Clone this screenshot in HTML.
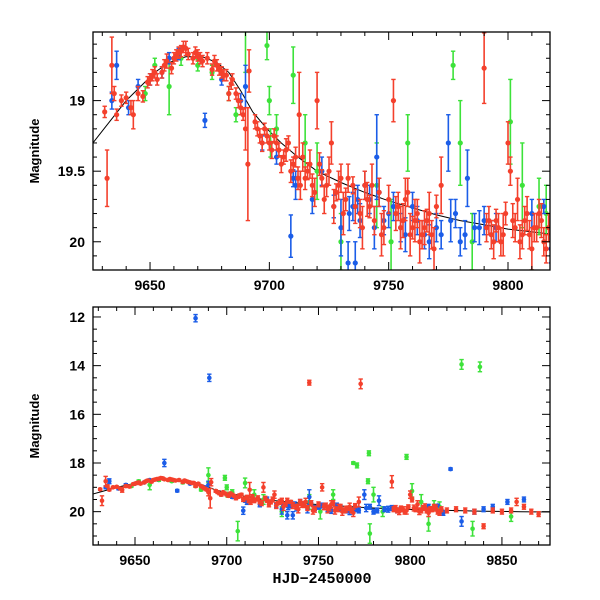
<!DOCTYPE html>
<html><head><meta charset="utf-8"><style>
html,body{margin:0;padding:0;background:#fff}
svg{display:block}
text{font-family:"Liberation Sans",sans-serif;font-weight:bold;fill:#000}
</style></head><body>
<svg id="chart" width="600" height="600" viewBox="0 0 600 600"></svg>
<script>
// ---- data ----
const redDays=[9631,9632,9634,9635,9636,9638,9640,9642,9643,9645,9647,9649,9651,9653,9655,9657,9659,9660,9662,9664,9666,9668,9670,9672,9674,9676,9678,9680,9682,9684,9686,9688,9689,9690,9691,9691.5,9694,9696,9698,9700,9702,9704,9706,9708,9710,9712,9714,9716,9718,9720,9721,9722,9724,9726,9728,9730,9732,9735,9738,9740,9742,9744,9746,9748,9750,9752,9754,9756,9758,9760,9762,9764,9766,9768,9770,9772,9790,9791,9793,9795,9797,9799,9800,9801,9803,9805,9807,9809,9811,9813,9815,9817,9745,9773,9820,9825,9830,9835,9840,9845,9850,9855,9858,9862,9866,9870,
9695,9697,9699,9701,9703,9705,9707,9709,9711,9713,9715,9717,9719,9723,9725,9727,9729,9731,9733,9736,9739,9741,9743,9747,9753,9755,9757,9759,9761,9763,9765,9767,9769,9792,9794,9796,9798,9802,9804,9806,9808,9810,9812,9814,9816,9712.5,9684.5,9683,9687,9650,9652,9656,9661,9663,9665,9669,9671,9677,9679,9681];
const redMags=[19.08,19.55,18.75,18.95,19.1,19.0,18.98,19.05,19.1,18.95,18.97,18.87,18.82,18.85,18.8,18.72,18.77,18.7,18.66,18.62,18.67,18.7,18.68,18.72,18.7,18.78,18.75,18.8,18.82,18.88,18.95,19.05,19.1,19.2,19.45,18.79,19.15,19.25,19.2,19.3,19.25,19.35,19.4,19.3,19.45,19.55,19.4,19.5,19.6,19.0,19.45,19.55,19.6,19.3,19.65,19.55,19.7,19.6,19.8,19.6,19.75,19.85,19.65,19.9,19.7,19.0,19.75,19.85,19.65,19.9,19.8,19.95,19.85,19.95,19.75,19.6,18.77,19.9,19.95,19.85,20.0,19.8,19.3,19.5,19.9,20.0,19.85,19.95,19.9,19.8,20.0,19.9,14.7,14.75,19.95,19.9,19.95,20.0,20.6,19.95,20.0,19.95,19.6,19.8,20.0,20.1,
19.2,19.3,19.25,19.35,19.3,19.45,19.35,19.5,19.4,19.6,19.55,19.45,19.65,19.7,19.5,19.75,19.6,19.8,19.55,19.75,19.9,19.7,19.6,19.95,19.8,19.9,19.7,19.95,19.85,20.0,19.9,19.8,20.05,19.85,20.0,19.9,19.95,19.85,19.7,19.95,19.8,20.05,19.9,19.85,20.05,19.1,18.85,18.95,19.0,18.85,18.8,18.75,18.68,18.65,18.63,18.66,18.7,18.72,18.78,18.82];
const redErrs=[0.04,0.2,0.2,0.05,0.04,0.04,0.04,0.05,0.1,0.05,0.04,0.04,0.04,0.04,0.04,0.05,0.04,0.04,0.04,0.04,0.04,0.04,0.04,0.04,0.04,0.04,0.04,0.04,0.04,0.04,0.04,0.05,0.04,0.15,0.4,0.15,0.05,0.05,0.04,0.05,0.05,0.05,0.05,0.05,0.05,0.08,0.1,0.06,0.08,0.2,0.08,0.06,0.08,0.15,0.06,0.1,0.08,0.06,0.1,0.1,0.08,0.1,0.1,0.12,0.1,0.15,0.1,0.12,0.1,0.08,0.1,0.1,0.08,0.1,0.08,0.2,0.25,0.1,0.1,0.08,0.1,0.08,0.15,0.1,0.1,0.12,0.1,0.1,0.1,0.1,0.1,0.1,0.1,0.2,0.1,0.1,0.1,0.1,0.1,0.1,0.1,0.1,0.15,0.1,0.1,0.1,
0.05,0.06,0.05,0.06,0.05,0.06,0.08,0.08,0.07,0.1,0.08,0.1,0.1,0.1,0.1,0.12,0.1,0.15,0.1,0.12,0.15,0.12,0.15,0.15,0.12,0.15,0.15,0.15,0.15,0.15,0.12,0.15,0.15,0.1,0.12,0.1,0.15,0.12,0.15,0.1,0.12,0.15,0.1,0.12,0.1,0.3,0.04,0.05,0.05,0.04,0.04,0.04,0.04,0.04,0.05,0.04,0.04,0.04,0.04,0.04];
const blueDays=[9634,9636,9641,9645,9650,9655,9658,9662,9673,9680,9688,9690,9697,9703,9710,9709,9718,9722,9727,9730,9733,9737,9740,9745,9746,9750,9755,9760,9765,9770,9775,9778,9780,9783,9786,9790,9795,9810,9815,9818,9666,9683,9690.5,9822,9828,9840,9853,9862,9845,9835,
9733.5,9735,9738,9742,9744,9748,9752,9757,9762,9767,9772,9776,9782,9788,9793,9736,9711];
const blueMags=[19.0,18.75,19.05,18.9,18.85,18.8,18.7,18.67,19.14,18.85,19.0,18.9,19.3,19.4,19.55,19.96,19.7,19.5,19.75,19.9,20.15,19.7,19.6,19.4,19.65,19.8,19.9,19.75,19.95,19.9,19.3,19.8,20.0,19.55,19.9,19.85,19.9,19.8,19.75,20.05,18.0,12.05,14.5,18.25,20.4,19.9,19.6,19.5,19.8,20.0,
19.8,19.75,19.85,19.7,19.9,19.85,19.75,19.95,19.85,20.0,19.95,19.85,19.95,19.9,19.95,20.15,19.6];
const blueErrs=[0.06,0.1,0.05,0.05,0.04,0.04,0.04,0.04,0.05,0.04,0.05,0.15,0.05,0.05,0.06,0.15,0.1,0.1,0.08,0.2,0.15,0.1,0.1,0.3,0.1,0.1,0.1,0.1,0.1,0.1,0.2,0.1,0.1,0.2,0.1,0.1,0.1,0.1,0.05,0.1,0.15,0.15,0.15,0.05,0.2,0.1,0.1,0.1,0.1,0.1,
0.12,0.1,0.12,0.1,0.15,0.1,0.1,0.12,0.1,0.12,0.1,0.15,0.1,0.12,0.1,0.15,0.1];
const greenDays=[9648,9652,9658,9663,9670,9676,9683,9686,9690,9699,9700,9703,9710,9715,9720,9730,9745,9751,9758,9777,9780,9785,9801,9806,9813,9816,9700.5,9706,9769,9771,9777.5,9798,9828,9838,9778,9810,9834,9855];
const greenMags=[18.95,18.75,18.9,18.7,18.75,18.8,18.95,19.1,18.5,18.61,19.0,19.2,18.82,19.3,19.5,20.0,19.6,20.0,19.3,18.75,19.3,20.0,19.15,19.6,19.75,19.8,19.3,20.8,18.0,18.1,17.6,17.75,13.95,14.05,20.9,20.5,20.7,20.2];
const greenErrs=[0.05,0.05,0.2,0.05,0.04,0.05,0.05,0.05,0.3,0.1,0.1,0.1,0.2,0.2,0.2,0.2,0.3,0.3,0.2,0.1,0.3,0.2,0.3,0.3,0.2,0.2,0.1,0.4,0.05,0.1,0.1,0.1,0.2,0.2,0.4,0.3,0.3,0.2];
const modelDays=[9620,9626,9633,9640,9646,9652,9658,9665,9672,9678,9683,9688,9693,9699,9705,9712,9720,9730,9740,9750,9760,9770,9780,9790,9800,9810,9820,9840,9860,9880];
const modelMags=[19.42,19.3,19.15,19.0,18.9,18.8,18.73,18.69,18.69,18.73,18.8,18.93,19.08,19.2,19.3,19.4,19.5,19.58,19.65,19.71,19.76,19.81,19.85,19.88,19.91,19.93,19.95,19.98,20.0,20.02];
const topXTicks=[9650,9700,9750,9800];
const topYTicks=[19,19.5,20];
const botXTicks=[9650,9700,9750,9800,9850];
const botYTicks=[12,14,16,18,20];
// ---- drawing ----
const NS="http://www.w3.org/2000/svg";
const svg=document.getElementById('chart');
function mk(tag,attrs,parent){const e=document.createElementNS(NS,tag);for(const k in attrs)e.setAttribute(k,attrs[k]);(parent||svg).appendChild(e);return e;}
const panels=[
 {name:'top',x0:93,x1:550,y0:32,y1:270,d0:9626.1,d1:9817.6,m0:18.514,m1:20.2,xt:topXTicks,yt:topYTicks,xminor:10,yminor:0.1,r:2.6},
 {name:'bottom',x0:93,x1:550,y0:307,y1:545,d0:9627.1,d1:9876.2,m0:11.59,m1:21.37,xt:botXTicks,yt:botYTicks,xminor:10,yminor:0.5,r:2.3}
];
const series=[
 {key:'green',color:'#3de23a',d:greenDays,m:greenMags,e:greenErrs},
 {key:'blue',color:'#1b5de8',d:blueDays,m:blueMags,e:blueErrs},
 {key:'red',color:'#f4402c',d:redDays,m:redMags,e:redErrs}
];
panels.forEach((p,pi)=>{
 const X=d=>p.x0+(d-p.d0)/(p.d1-p.d0)*(p.x1-p.x0);
 const Y=m=>p.y0+(m-p.m0)/(p.m1-p.m0)*(p.y1-p.y0);
 const g=mk('g',{});
 
 
 const cid='clip'+pi;
 const cp=mk('clipPath',{id:cid},g);mk('rect',{x:p.x0,y:p.y0,width:p.x1-p.x0,height:p.y1-p.y0},cp);
 const plot=mk('g',{'clip-path':'url(#'+cid+')'},g);
 const pts=modelDays.map((d,i)=>X(d).toFixed(1)+','+Y(modelMags[i]).toFixed(1)).join(' ');
 const ml=mk('polyline',{points:pts,fill:'none',stroke:'#000','stroke-width':1},plot);
 
 
 series.forEach(s=>{
  const sg=mk('g',{stroke:s.color,fill:s.color},plot);
  
  
  s.d.forEach((d,i)=>{
   const x=X(d),y=Y(s.m[i]),ya=Y(s.m[i]-s.e[i]),yb=Y(s.m[i]+s.e[i]);
   mk('line',{x1:x,x2:x,y1:ya,y2:yb,'stroke-width':1.6},sg);
   mk('line',{x1:x-2.2,x2:x+2.2,y1:ya,y2:ya,'stroke-width':1.4},sg);
   mk('line',{x1:x-2.2,x2:x+2.2,y1:yb,y2:yb,'stroke-width':1.4},sg);
   const c=mk('circle',{cx:x,cy:y,r:p.r,stroke:'none'},sg);
   
   
  });
 });
 const fr=mk('rect',{x:p.x0,y:p.y0,width:p.x1-p.x0,height:p.y1-p.y0,fill:'none',stroke:'#000','stroke-width':1.3},g);
 
 
 for(let d=Math.ceil(p.d0/p.xminor)*p.xminor;d<=p.d1;d+=p.xminor){
  const maj=d%50===0,L=maj?8:4,x=X(d);
  mk('line',{x1:x,x2:x,y1:p.y1,y2:p.y1-L,stroke:'#000','stroke-width':1},g);
  mk('line',{x1:x,x2:x,y1:p.y0,y2:p.y0+L,stroke:'#000','stroke-width':1},g);
 }
 p.xt.forEach(v=>{const t=mk('text',{x:X(v),y:p.y1+20,'text-anchor':'middle','font-size':14},g);t.textContent=v;
  });
 const ymaj=pi===0?0.5:2;
 const n0=Math.ceil(p.m0/p.yminor-1e-6),n1=Math.floor(p.m1/p.yminor+1e-6);
 for(let n=n0;n<=n1;n++){
  const m=n*p.yminor,maj=Math.abs(m/ymaj-Math.round(m/ymaj))<1e-6,L=maj?8:4,y=Y(m);
  mk('line',{x1:p.x0,x2:p.x0+L,y1:y,y2:y,stroke:'#000','stroke-width':1},g);
  mk('line',{x1:p.x1,x2:p.x1-L,y1:y,y2:y,stroke:'#000','stroke-width':1},g);
 }
 p.yt.forEach(v=>{const t=mk('text',{x:p.x0-8,y:Y(v)+5,'text-anchor':'end','font-size':14},g);t.textContent=v;
  });
 const yl=mk('text',{x:0,y:0,'text-anchor':'middle','font-size':13,transform:'translate(39,'+((p.y0+p.y1)/2)+') rotate(-90)'},g);
 yl.textContent='Magnitude';
 
 
});
const xl=mk('text',{x:322,y:583,'text-anchor':'middle','font-size':15,style:'font-family:"Liberation Mono",monospace'});
xl.textContent='HJD\u22122450000';


</script>
</body></html>
